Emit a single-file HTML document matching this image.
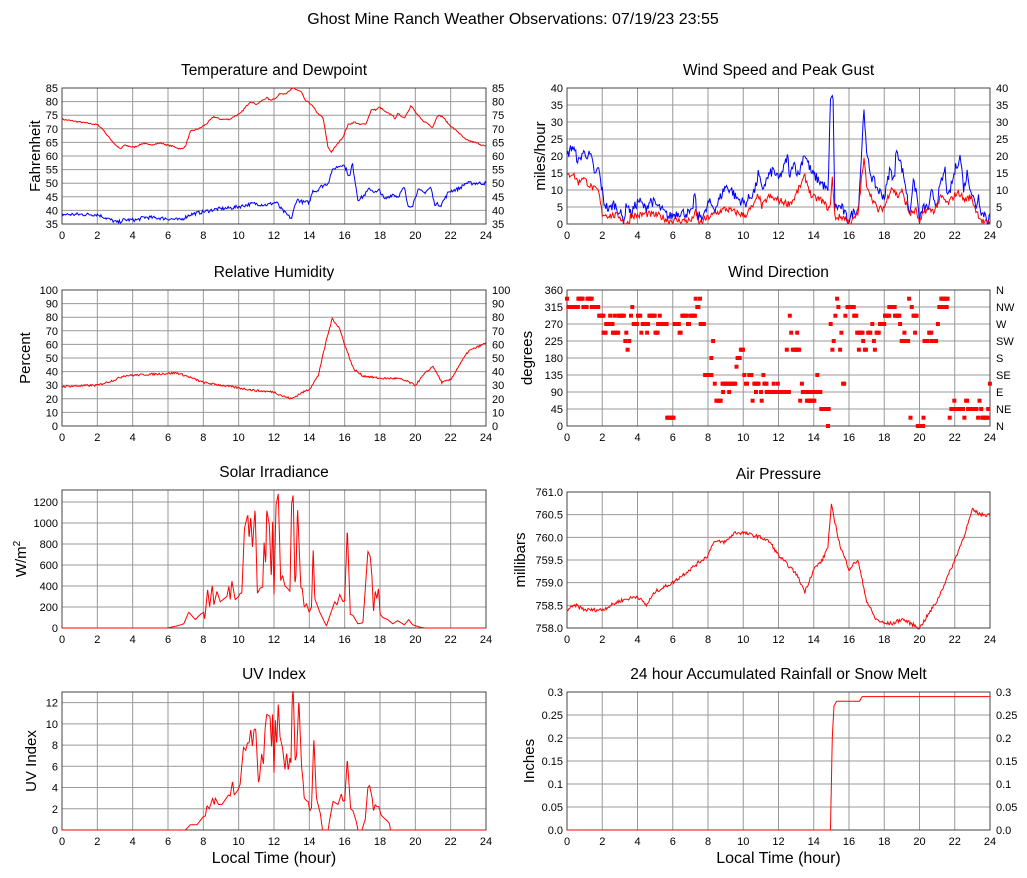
<!DOCTYPE html>
<html><head><meta charset="utf-8">
<style>
html,body{margin:0;padding:0;background:#fff;}
svg{display:block;font-family:"Liberation Sans",sans-serif;}
</style></head><body>
<svg id="s" width="1027" height="878" xmlns="http://www.w3.org/2000/svg">
<text x="513" y="24" font-size="16" text-anchor="middle">Ghost Mine Ranch Weather Observations: 07/19/23 23:55</text>
</svg>
<script>
var S=document.getElementById('s'),out='';
var seed=7;function rnd(){seed=(seed*16807)%2147483647;return seed/2147483647;}
function T(x,y,t,o){o=o||{};out+='<text x="'+x+'" y="'+y+'" font-size="'+(o.fs||11)+'" text-anchor="'+(o.a||'middle')+'"'+(o.r?' transform="rotate(-90 '+x+' '+y+')"':'')+'>'+t+'</text>';}
function interp(k,h){for(var i=0;i<k.length-1;i++){if(h<=k[i+1][0]){var a=k[i],b=k[i+1];var f=(h-a[0])/((b[0]-a[0])||1);return a[1]+(b[1]-a[1])*f;}}return k[k.length-1][1];}
function px(k){return k.map(function(a){return [Math.max(0,Math.min(24,(a[0]-183)/53.25)),a[1]];});}
function pw(k){return k.map(function(a){return [Math.max(0,Math.min(24,(a[0]-24)/53.04)),a[1]];});}
function panel(p){
 var x0=p.x0,x1=p.x1,y0=p.y0,y1=p.y1,W=x1-x0,H=y1-y0;
 function X(h){return x0+h/24*W;} function Y(v){return y1-(v-p.min)/(p.max-p.min)*H;}
 p.X=X;p.Y=Y;
 for(var h=2;h<24;h+=2)out+='<line x1="'+X(h)+'" y1="'+y0+'" x2="'+X(h)+'" y2="'+y1+'" stroke="#999" stroke-width="1"/>';
 p.ticks.forEach(function(t,i){var y=Y(t[0]);if(i>0&&y>y0+1)out+='<line x1="'+x0+'" y1="'+y+'" x2="'+x1+'" y2="'+y+'" stroke="#999" stroke-width="1"/>';
   T(x0-4,y+4,t[1],{a:'end'}); if(p.right)T(x1+6,y+4,p.right[i],{a:'start'});});
 out+='<rect x="'+x0+'" y="'+y0+'" width="'+W+'" height="'+H+'" fill="none" stroke="#444" stroke-width="1"/>';
 for(var h=0;h<=24;h+=2)T(X(h),y1+15,h);
 T((x0+x1)/2,y0-13,p.title,{fs:15.5});
 T(p.lx,(y0+y1)/2,p.label,{fs:15,r:1});
 if(p.xl)T((x0+x1)/2,y1+33,'Local Time (hour)',{fs:16});
}
function line(p,k,col,noise,step,clip){
 step=step||0.05;var pts=[];
 for(var h=0;h<=24.0001;h+=step){var v=interp(k,h);if(noise)v+=(rnd()-0.5)*noise;if(clip!=null&&v<clip)v=clip;pts.push(p.X(h).toFixed(1)+','+p.Y(v).toFixed(1));}
 out+='<polyline points="'+pts.join(' ')+'" fill="none" stroke="'+col+'" stroke-width="1"/>';
}
var L0=62,L1=486,R0=567,R1=990;
function rng(a,b,s){var r=[];for(var v=a;v<=b+1e-9;v+=s)r.push([v,(Math.round(v*100)/100).toString()]);return r;}
// Temperature
var tp={x0:L0,x1:L1,y0:88,y1:224,min:35,max:85,ticks:rng(35,85,5),title:'Temperature and Dewpoint',label:'Fahrenheit',lx:40};
tp.right=tp.ticks.map(function(t){return t[1];});panel(tp);
line(tp,px([[183,73.5],[290,71.5],[305,70],[320,67.5],[345,64],[360,62.5],[370,64],[400,63.2],[430,64.8],[445,64],[480,64.8],[500,64],[520,63.5],[540,62.5],[555,63.5],[570,69],[600,70.3],[620,72],[640,74.5],[660,73.5],[690,73.5],[700,74.5],[720,75.5],[750,80],[770,79],[800,81.5],[810,80.5],[830,81.5],[840,83],[860,83],[880,85],[905,83.5],[915,80.5],[930,79.5],[940,78],[955,75.5],[970,74],[985,63],[995,61.5],[1020,65.5],[1030,67],[1045,71.5],[1065,72.5],[1080,71.5],[1100,72],[1115,77],[1130,77],[1140,78],[1160,76],[1180,75],[1185,73.5],[1195,75.5],[1215,74],[1235,78.5],[1255,75],[1270,73],[1285,72],[1300,70.5],[1315,75],[1330,74.5],[1350,71.5],[1375,69],[1400,66],[1440,64.5],[1460,63.5]]),'#f00',0.5);
line(tp,px([[183,38.5],[290,38.5],[320,37],[350,35.5],[370,36.5],[410,36.5],[430,37.5],[500,37],[540,36.5],[570,38.5],[650,40.5],[700,41],[760,42.5],[800,42],[830,43],[840,41],[860,38.5],[875,37],[890,44],[910,43],[930,43],[938,47.5],[950,47],[960,48.5],[985,50],[995,54],[1005,55.5],[1030,57],[1040,55],[1050,52],[1058,57.5],[1075,44],[1090,45],[1110,48],[1130,46.5],[1140,47.5],[1155,44],[1180,46],[1195,45],[1215,48.5],[1225,41.5],[1240,42],[1255,47.5],[1275,46.5],[1295,48.5],[1305,42.5],[1325,42],[1350,47],[1380,48],[1400,50],[1460,50]]),'#00f',1.3);
// Wind speed
var ws={x0:R0,x1:R1,y0:88,y1:224,min:0,max:40,ticks:rng(0,40,5),title:'Wind Speed and Peak Gust',label:'miles/hour',lx:545};
ws.right=ws.ticks.map(function(t){return t[1];});panel(ws);
line(ws,pw([[24,20],[40,23],[60,18],[70,21],[95,20],[110,14],[118,17],[135,6.5],[150,4],[165,6],[180,4],[195,1],[205,6.5],[215,3],[240,7],[260,4.5],[275,7],[300,5],[330,2],[360,3.5],[400,3],[408,9.4],[415,2],[440,3],[450,6.5],[470,4.5],[500,11],[520,10],[530,8],[560,6],[590,10],[600,15],[610,10],[630,14],[645,16],[660,13],[675,16],[688,20],[695,13],[705,19],[720,14],[738,21],[760,15],[780,13],[800,11],[810,9],[817,38],[825,36],[830,5],[850,5],[870,1],[890,4],[900,4],[910,20],[918,35],[925,20.5],[940,14],[960,10],[980,8],[995,16],[1010,13],[1015,23],[1030,17],[1040,13],[1055,3],[1065,12],[1075,10],[1085,1],[1095,4.5],[1115,5],[1120,9.4],[1135,6],[1150,12],[1162,16],[1170,7],[1195,17],[1208,20],[1218,10],[1228,15],[1240,10],[1255,5],[1262,8.5],[1272,3],[1285,3],[1290,0],[1297,3]]),'#00f',3,0.05,0);
line(ws,pw([[24,14],[40,15],[60,12],[70,14],[95,11],[110,10],[118,10],[130,3],[150,2.5],[180,2.5],[195,0.5],[210,0],[215,2.5],[240,2.5],[260,3],[300,2.5],[330,1],[400,1],[410,4],[420,0],[450,2],[470,3],[500,4.5],[530,3.5],[560,2.5],[590,6],[600,9],[610,5],[630,8],[660,7],[690,6],[705,7],[730,12],[740,14],[760,8],[790,7],[815,4],[822,14],[830,2],[860,2],[875,0],[900,3],[910,13],[918,19],[925,12],[940,8],[960,4],[980,5],[1000,11],[1020,8],[1030,10],[1055,3],[1075,4],[1085,0],[1100,4],[1130,4],[1150,8],[1170,6],[1195,9],[1208,9],[1218,7],[1240,8],[1255,4],[1272,1],[1290,0],[1297,1]]),'#f00',2,0.05,0);
// RH
var rh={x0:L0,x1:L1,y0:290,y1:426,min:0,max:100,ticks:rng(0,100,10),title:'Relative Humidity',label:'Percent',lx:30};
rh.right=rh.ticks.map(function(t){return t[1];});panel(rh);
line(rh,[[0,29],[2,30],[3,34],[3.5,37],[5,38],[6.5,39],[7,37],[8,32],[9,30],[10,28],[11,26],[12,25],[12.5,22],[13,20],[13.5,24],[14,27],[14.5,37],[15,65],[15.3,79],[15.7,72],[16,60],[16.5,42],[17,37],[18,35],[19,35],[19.5,33],[20,30],[20.5,38],[21,44],[21.5,32],[22,34],[22.5,45],[23,55],[24,61]],'#f00',1.5);
// Wind direction
var wd={x0:R0,x1:R1,y0:290,y1:426,min:0,max:360,ticks:rng(0,360,45),title:'Wind Direction',label:'degrees',lx:532,right:['N','NE','E','SE','S','SW','W','NW','N']};
panel(wd);
var R=[[201,201,337],[205,235,315],[235,250,337],[250,262,315],[262,275,337],[275,297,315],[297,310,292],[310,318,247],[318,338,270],[330,330,292],[338,355,247],[343,343,292],[355,372,292],[375,375,225],[378,378,247],[382,382,202],[387,387,225],[392,392,292],[396,396,315],[400,410,270],[413,420,292],[423,423,247],[427,445,270],[440,440,247],[447,465,292],[465,473,247],[478,478,292],[473,500,270],[500,520,22],[522,535,270],[537,542,247],[545,560,292],[562,568,270],[570,583,292],[585,585,337],[590,595,315],[598,598,337],[600,612,270],[613,632,135],[632,632,180],[637,637,225],[642,642,112],[647,660,67],[665,705,112],[667,667,90],[685,685,90],[707,707,157],[710,718,180],[720,728,202],[730,730,135],[735,740,112],[745,752,135],[755,755,67],[760,775,112],[765,765,90],[780,780,90],[782,782,67],[787,787,135],[790,797,112],[797,865,90],[818,818,112],[830,830,112],[857,857,202],[866,866,292],[870,870,247],[875,895,202],[888,888,247],[897,897,67],[902,902,112],[905,925,90],[917,940,67],[935,960,90],[948,948,135],[960,985,45],[980,980,0],[988,988,270],[993,993,202],[997,997,225],[1002,1002,292],[1007,1007,337],[1011,1011,315],[1016,1016,202],[1020,1020,247],[1025,1030,112],[1032,1032,292],[1038,1057,315],[1058,1065,292],[1067,1083,247],[1072,1072,202],[1085,1085,225],[1090,1095,202],[1100,1108,247],[1112,1112,270],[1117,1117,225],[1120,1120,202],[1125,1132,247],[1135,1150,270],[1150,1163,292],[1163,1180,315],[1180,1193,292],[1195,1195,270],[1200,1220,225],[1208,1208,247],[1222,1222,337],[1226,1226,22],[1230,1230,315],[1235,1245,292],[1240,1240,247],[1248,1265,0],[1265,1265,22],[1268,1280,225],[1282,1290,247],[1290,1305,225],[1308,1308,270],[1312,1335,315],[1318,1340,337],[1343,1343,22],[1348,1385,45],[1357,1357,67],[1387,1387,22],[1392,1398,67],[1398,1425,45],[1428,1428,22],[1432,1432,67],[1437,1437,45],[1440,1457,22],[1458,1458,45],[1463,1463,112]];
R.forEach(function(r){var a=(r[0]-201)/52.6,b=(r[1]-201)/52.6;for(var h=a;h<=b+0.001;h+=0.06){out+='<rect x="'+(wd.X(h)-2).toFixed(1)+'" y="'+(wd.Y(r[2])-2).toFixed(1)+'" width="4" height="4" fill="#f00"/>';}});
// Solar
var so={x0:L0,x1:L1,y0:490,y1:628,min:0,max:1314,ticks:rng(0,1200,200),title:'Solar Irradiance',label:'W/m<tspan dy="-6" font-size="10">2</tspan>',lx:26};
panel(so);
line(so,px([[183,0],[500,0],[530,20],[550,40],[565,150],[585,80],[600,130],[610,150],[613,80],[622,370],[628,200],[636,410],[641,220],[650,350],[660,250],[680,300],[686,400],[690,270],[695,450],[705,270],[715,300],[720,330],[725,330],[733,950],[743,1080],[747,850],[752,1060],[757,770],[765,1140],[772,330],[780,380],[788,390],[792,820],[797,600],[800,1130],[808,980],[814,460],[818,1050],[822,320],[828,1170],[835,1280],[842,450],[848,500],[855,400],[862,380],[870,350],[875,1180],[880,1270],[885,420],[888,500],[893,1150],[903,380],[907,380],[913,200],[920,230],[928,150],[935,200],[940,760],[945,280],[960,150],[980,20],[1005,250],[1012,220],[1020,320],[1030,250],[1035,260],[1043,950],[1052,130],[1060,120],[1075,40],[1090,50],[1105,730],[1112,680],[1117,500],[1122,150],[1127,350],[1132,280],[1137,380],[1142,130],[1150,100],[1165,80],[1180,40],[1195,70],[1215,30],[1228,80],[1240,30],[1260,10],[1275,0],[1460,0]]),'#f00',0,0.02);
// Pressure
var pr={x0:R0,x1:R1,y0:492,y1:628,min:758,max:761,ticks:[[758,'758.0'],[758.5,'758.5'],[759,'759.0'],[759.5,'759.5'],[760,'760.0'],[760.5,'760.5'],[761,'761.0']],title:'Air Pressure',label:'millibars',lx:525};
panel(pr);
line(pr,[[0,758.4],[0.5,758.5],[1,758.4],[2,758.4],[3,758.6],[4,758.7],[4.5,758.5],[5,758.8],[6,759.0],[7,759.3],[8,759.6],[8.3,759.9],[9,759.9],[9.5,760.1],[10,760.1],[11,760.0],[11.5,759.9],[12,759.6],[13,759.2],[13.5,758.8],[14,759.3],[14.5,759.5],[14.8,759.8],[15,760.7],[15.5,759.8],[16,759.3],[16.5,759.5],[17,758.6],[17.5,758.2],[18,758.1],[18.5,758.1],[19,758.2],[19.5,758.1],[20,758.0],[20.5,758.3],[21,758.6],[22,759.5],[22.5,760],[23,760.6],[23.5,760.5],[24,760.5]],'#f00',0.08);
// UV
var uv={x0:L0,x1:L1,y0:692,y1:830,min:0,max:13,ticks:rng(0,12,2),title:'UV Index',label:'UV Index',lx:36,xl:1};
panel(uv);
line(uv,px([[183,0],[555,0],[570,0.5],[590,0.5],[610,1.3],[615,1.3],[620,2.3],[627,2],[637,3],[642,2.4],[645,3],[655,2.4],[665,2.4],[685,3.3],[690,3.2],[697,4.6],[702,3.3],[712,3.7],[720,4.3],[730,7.8],[737,7.5],[742,8.2],[747,8.2],[752,9.5],[757,7.9],[762,9.5],[767,9.5],[775,4.5],[778,4.8],[785,7.2],[790,6.2],[795,9.5],[800,10.9],[810,10.7],[815,7.6],[818,11.2],[822,5.4],[826,10.5],[830,7.9],[835,12],[840,8.8],[848,7.7],[855,5.7],[860,7.3],[865,5.6],[870,6.8],[873,6.2],[877,12.5],[880,13.2],[886,6.5],[890,7],[897,12.3],[905,6],[910,4.5],[913,3],[922,2.7],[925,2.7],[930,1.8],[935,2.1],[942,8.7],[950,3],[962,1.5],[968,0],[985,0],[990,1],[1000,2.7],[1010,2.5],[1015,2.4],[1025,3.4],[1030,2.7],[1035,2.8],[1043,6.7],[1053,2],[1060,1.8],[1070,0.8],[1075,0],[1087,0],[1097,1],[1105,4],[1110,4.2],[1118,3],[1122,1.8],[1127,2.4],[1132,2.2],[1138,2.2],[1145,1.4],[1165,0.8],[1170,0.6],[1173,0],[1460,0]]),'#f00',0,0.02);
// Rain
var rn={x0:R0,x1:R1,y0:692,y1:830,min:0,max:0.3,ticks:[[0,'0.0'],[0.05,'0.05'],[0.1,'0.1'],[0.15,'0.15'],[0.2,'0.2'],[0.25,'0.25'],[0.3,'0.3']],title:'24 hour Accumulated Rainfall or Snow Melt',label:'Inches',lx:534,xl:1};
rn.right=['0.0','0.05','0.1','0.15','0.2','0.25','0.3'];panel(rn);
line(rn,[[0,0],[14.95,0],[15.05,0.2],[15.15,0.27],[15.3,0.28],[16.6,0.28],[16.75,0.29],[24,0.29]],'#f00',0,0.025);
S.innerHTML+=out;
</script>
</body></html>
